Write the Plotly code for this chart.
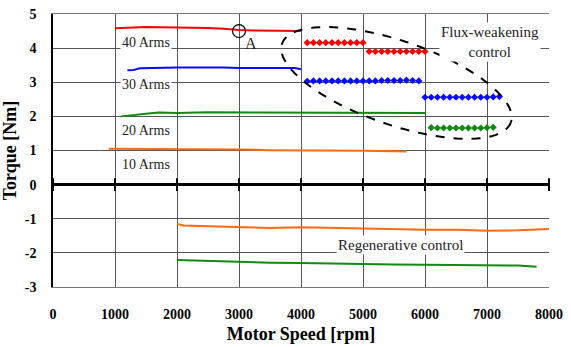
import numpy as np
import plotly.graph_objects as go

# ---- data ----
a40_x = [1000, 1250, 1500, 1750, 2000, 2250, 2500, 2750, 3000, 3250, 3500, 3750, 4000]
a40_y = [4.58, 4.60, 4.62, 4.61, 4.61, 4.60, 4.59, 4.57, 4.53, 4.52, 4.51, 4.50, 4.50]

a30_x = [1200, 1300, 1400, 1600, 1800, 2000, 2250, 2500, 2750, 3000, 3250, 3500, 3750, 3900, 4000]
a30_y = [3.35, 3.36, 3.41, 3.42, 3.42, 3.43, 3.43, 3.44, 3.43, 3.42, 3.42, 3.41, 3.41, 3.42, 3.38]

a20_x = [1100, 1300, 1500, 1700, 2000, 2500, 3000, 3500, 4000, 4500, 5000, 5500, 6000]
a20_y = [2.00, 2.05, 2.08, 2.11, 2.10, 2.12, 2.12, 2.11, 2.12, 2.10, 2.11, 2.10, 2.10]

a10_x = [900, 1250, 1500, 2000, 2500, 3000, 3500, 4000, 4500, 5000, 5500, 5700]
a10_y = [1.05, 1.05, 1.05, 1.05, 1.04, 1.03, 1.01, 1.01, 1.00, 0.99, 0.98, 0.97]

fw_red_x = [4100, 4200, 4300, 4400, 4500, 4600, 4700, 4800, 4900, 5000,
            5100, 5200, 5300, 5400, 5500, 5600, 5700, 5800, 5900, 6000]
fw_red_y = [4.16] * 10 + [3.90] * 10

fw_blue_x = [4100, 4200, 4300, 4400, 4500, 4600, 4700, 4800, 4900, 5000,
             5100, 5200, 5300, 5400, 5500, 5600, 5700, 5800, 5900,
             6000, 6100, 6200, 6300, 6400, 6500, 6600, 6700, 6800, 6900, 7000, 7100, 7200]
fw_blue_y = [3.03, 3.04, 3.04, 3.04, 3.04, 3.04, 3.04, 3.04, 3.04, 3.04,
             3.04, 3.04, 3.05, 3.05, 3.05, 3.05, 3.06, 3.05, 3.04,
             2.56, 2.56, 2.56, 2.56, 2.56, 2.56, 2.56, 2.56, 2.56, 2.56, 2.56, 2.57, 2.58]

fw_green_x = [6100, 6200, 6300, 6400, 6500, 6600, 6700, 6800, 6900, 7000, 7100]
fw_green_y = [1.67, 1.66, 1.66, 1.66, 1.66, 1.66, 1.66, 1.66, 1.66, 1.67, 1.68]

rg_orange_x = [2000, 2100, 2500, 3000, 3500, 4000, 4500, 5000, 5500, 6000, 6500, 7000, 7500, 8000]
rg_orange_y = [-1.15, -1.20, -1.22, -1.25, -1.27, -1.25, -1.27, -1.28, -1.30, -1.32, -1.32, -1.35, -1.34, -1.30]

rg_green_x = [2000, 2500, 3000, 3500, 4000, 4500, 5000, 5500, 6000, 6500, 7000, 7500, 7800]
rg_green_y = [-2.21, -2.24, -2.27, -2.29, -2.30, -2.32, -2.33, -2.34, -2.35, -2.35, -2.35, -2.37, -2.41]

point_a = (3000, 4.5)

x_ticks = [0, 1000, 2000, 3000, 4000, 5000, 6000, 7000, 8000]
y_ticks = [-3, -2, -1, 0, 1, 2, 3, 4, 5]

RED, BLUE, GREEN, ORANGE = "#ff0000", "#0a0aff", "#118a11", "#ff6a10"
FONT = "Liberation Serif"

fig = go.Figure()

def line(x, y, c):
    fig.add_trace(go.Scatter(x=x, y=y, mode="lines", line=dict(color=c, width=2), showlegend=False))

def dots(x, y, c):
    fig.add_trace(go.Scatter(x=x, y=y, mode="markers", marker=dict(symbol="diamond", color=c, size=5.5),
                             showlegend=False))

# tick marks on the zero line
fig.add_trace(go.Scatter(x=x_ticks, y=[0] * len(x_ticks), mode="markers",
                         marker=dict(symbol="line-ns", size=9, line=dict(color="black", width=2)),
                         showlegend=False, cliponaxis=False))

line(a40_x, a40_y, RED)
line(a30_x, a30_y, BLUE)
line(a20_x, a20_y, GREEN)
line(a10_x, a10_y, ORANGE)
line(rg_orange_x, rg_orange_y, ORANGE)
line(rg_green_x, rg_green_y, GREEN)
dots(fw_red_x, fw_red_y, RED)
dots(fw_blue_x, fw_blue_y, BLUE)
dots(fw_green_x, fw_green_y, GREEN)

fig.add_trace(go.Scatter(x=[point_a[0]], y=[point_a[1]], mode="markers",
                         marker=dict(symbol="circle-open", size=13, color="black", line=dict(width=1.2)),
                         showlegend=False))

# dashed ellipse (defined in pixel-like units, converted to data units)
px_per_rpm = 496 / 8000
px_per_nm = 273.3 / 8
cx, cy = 5540, 2.98
a_px, b_px, th = 121, 42, np.deg2rad(19)
t = np.linspace(0, 2 * np.pi, 120)
ex = a_px * np.cos(t) * np.cos(th) - b_px * np.sin(t) * np.sin(th)
ey = -(a_px * np.cos(t) * np.sin(th) + b_px * np.sin(t) * np.cos(th))
xs = cx + ex / px_per_rpm
ys = cy + ey / px_per_nm
path = "M " + " L ".join(f"{x:.2f},{y:.4f}" for x, y in zip(xs, ys)) + " Z"
fig.add_shape(type="path", path=path, xref="x", yref="y", line=dict(color="black", width=2, dash="dash"))

def label(x, y, text, anchor="left", size=14):
    fig.add_annotation(x=x, y=y, text=text, showarrow=False, xanchor=anchor, yanchor="middle",
                       font=dict(family=FONT, size=size, color="#222"), bgcolor="white", borderpad=1)

label(1080, 4.17, "40 Arms")
label(1080, 2.92, "30 Arms")
label(1080, 1.60, "20 Arms")
label(1080, 0.58, "10 Arms")
fig.add_annotation(x=3060, y=4.15, text="A", showarrow=False, xanchor="left", yanchor="middle",
                   font=dict(family=FONT, size=16, color="#222"))
label(7050, 4.17, "Flux-weakening<br>control", anchor="center", size=15)
label(5600, -1.76, "Regenerative control", anchor="center", size=15)

fig.update_layout(
    width=571, height=347,
    margin=dict(l=53, r=22, t=14, b=60),
    paper_bgcolor="white", plot_bgcolor="white",
    font=dict(family=FONT, color="black"),
)
tfont = dict(family="Liberation Serif, Times New Roman, serif", size=14, color="black", weight="bold")
fig.update_xaxes(range=[0, 8000], tickmode="array", tickvals=x_ticks,
                 ticktext=[str(v) for v in x_ticks], automargin=False,
                 showgrid=True, gridcolor="#555", gridwidth=1,
                 zeroline=False, showline=True, linecolor="#777", mirror=True,
                 tickfont=tfont, ticks="", ticklabelstandoff=14,
                 title=dict(text="<b>Motor Speed [rpm]</b>", font=dict(family=FONT, size=18), standoff=6))
fig.update_yaxes(range=[-3, 5], tickmode="array", tickvals=y_ticks,
                 ticktext=[str(v) for v in y_ticks], automargin=False,
                 showgrid=True, gridcolor="#555", gridwidth=1,
                 zeroline=True, zerolinecolor="black", zerolinewidth=3,
                 showline=True, linecolor="black", linewidth=1.5, mirror=False,
                 tickfont=tfont, ticks="", ticklabelstandoff=12,
                 title=dict(text="<b>Torque [Nm]</b>", font=dict(family=FONT, size=18), standoff=4))

fig.write_html("out.html")
